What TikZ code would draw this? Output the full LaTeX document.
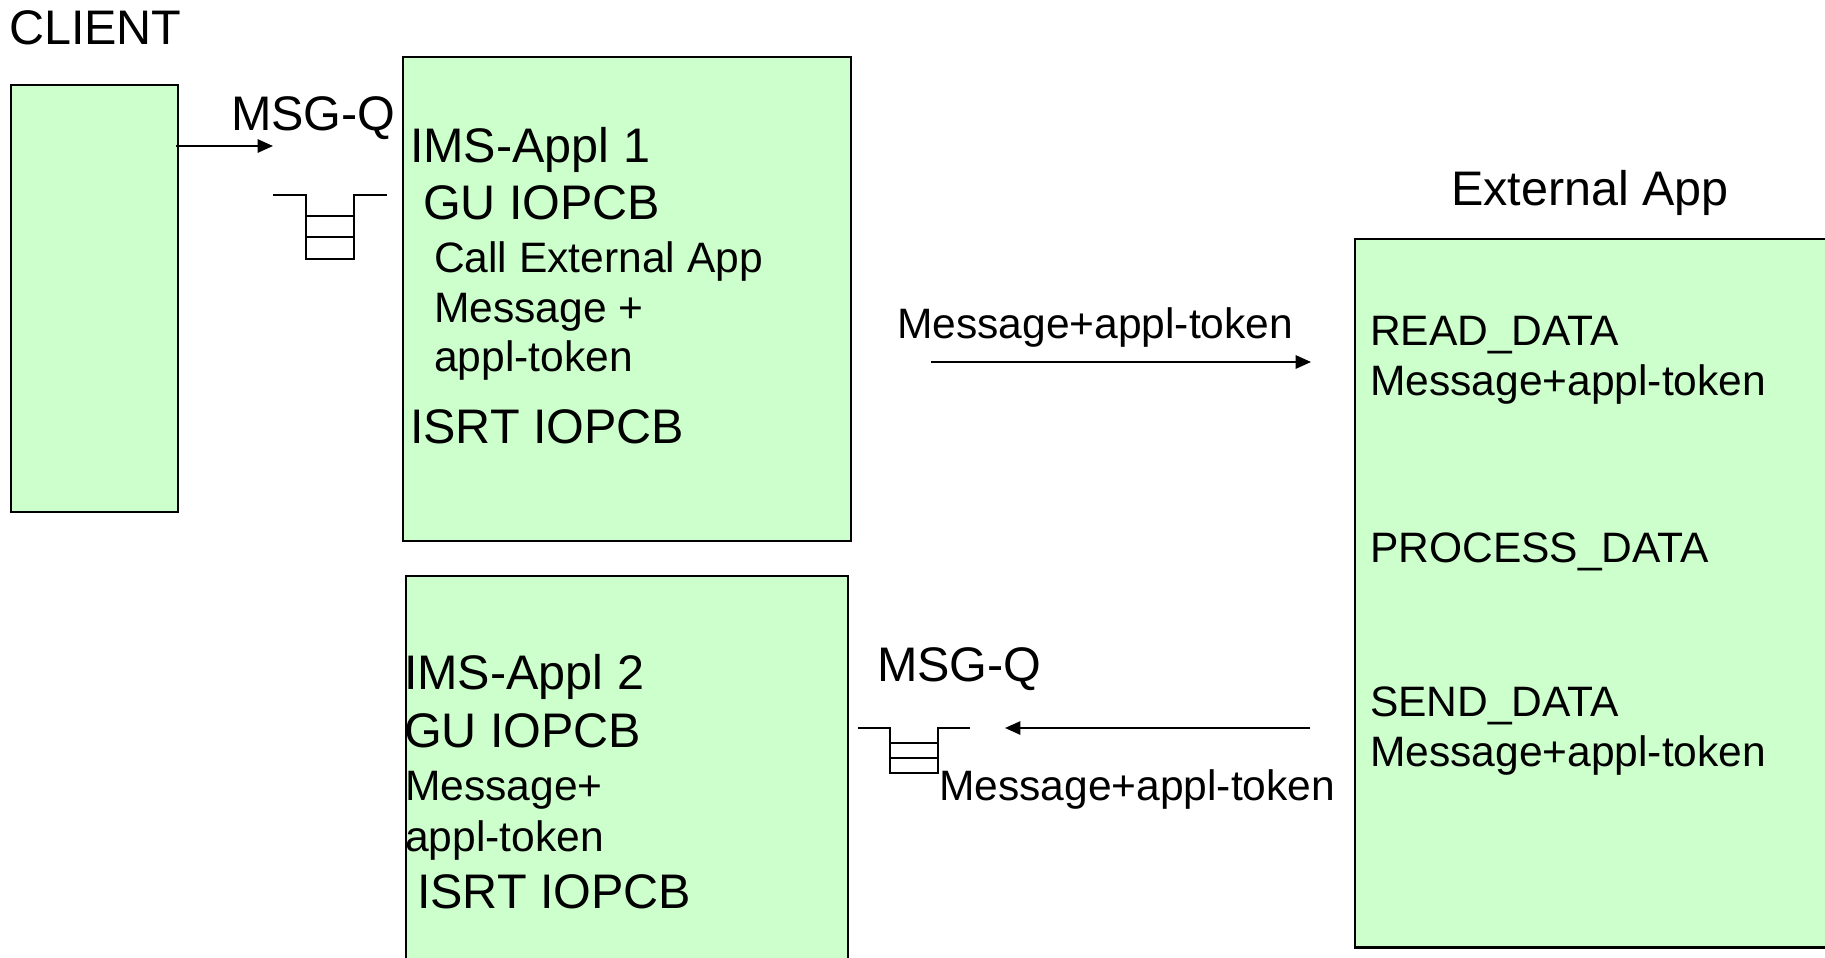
\documentclass[tikz,border=0pt]{standalone}
\usepackage{fontspec}
\setmainfont{Liberation Sans}
\usetikzlibrary{arrows.meta}
\definecolor{boxgreen}{HTML}{CCFFCC}

\begin{document}
\begin{tikzpicture}[x=0.01cm, y=-0.01cm, >={Triangle[length=4.4pt, width=3.8pt]}, line width=0.6pt]
    \tikzset{box/.style={draw, fill=boxgreen, anchor=north west, inner sep=0pt}};
    \tikzset{big/.style={anchor=base west, inner sep=0pt, font=\fontsize{13.8}{16}\selectfont}};
    \tikzset{small/.style={anchor=base west, inner sep=0pt, font=\fontsize{12.1}{14}\selectfont}};
    \tikzset{queue/.style={line width=0.5pt}};
    \useasboundingbox (0, 0) rectangle (1825, 958);
    \clip (0, 0) rectangle (1825, 958);
    % Client
    \node[big] (clientlbl) at (8, 45) {CLIENT};
    \node[box, minimum width=1.67cm, minimum height=4.27cm] (client) at (10, 84) {};
    \node[big] (msgq1) at (230, 131) {MSG-Q};
    \coordinate (qin) at (273, 146);
    \draw[->] (client.east |- qin) ++(-3, 0) -- (qin);
    \draw[queue] (273, 195) -- (306, 195) -- (306, 259) -- (354, 259) -- (354, 195) -- (387, 195);
    \foreach \y in {216, 237}{
        \draw[queue] (306, \y) -- (354, \y);
    }
    % IMS-Appl 1
    \node[box, minimum width=4.48cm, minimum height=4.84cm] (ims1) at (402, 56) {};
    \node[big] (ims1name) at (409, 163) {IMS-Appl 1};
    \node[big] (ims1gu) at (422, 220) {GU IOPCB};
    \node[small] (ims1call) at (433, 273) {Call External App};
    \node[small] (ims1msg) at (433, 323) {Message +};
    \node[small] (ims1tok) at (433, 372) {appl-token};
    \node[big] (ims1isrt) at (409, 443) {ISRT IOPCB};
    % Request
    \node[small] (reqlbl) at (896, 339) {Message+appl-token};
    \coordinate (reqfrom) at (931, 362);
    \coordinate (reqto) at (1311, 362);
    \draw[->] (reqfrom) -- (reqto);
    % External App
    \node[big] (extlbl) at (1450, 206) {External App};
    \node[box, minimum width=4.9cm, minimum height=7.08cm] (ext) at (1354, 238) {};
    \node[small] (extread) at (1369, 346) {READ\_DATA};
    \node[small] (extreadmsg) at (1369, 396) {Message+appl-token};
    \node[small] (extproc) at (1369, 562) {PROCESS\_DATA};
    \node[small] (extsend) at (1369, 716) {SEND\_DATA};
    \node[small] (extsendmsg) at (1369, 766) {Message+appl-token};
    % Reply
    \node[big] (msgq2) at (876, 681) {MSG-Q};
    \coordinate (repfrom) at (1310, 728);
    \coordinate (repto) at (1005, 728);
    \draw[->] (repfrom) -- (repto);
    \draw[queue] (858, 728) -- (890, 728) -- (890, 773) -- (938, 773) -- (938, 728) -- (970, 728);
    \foreach \y in {743, 758}{
        \draw[queue] (890, \y) -- (938, \y);
    }
    \node[small] (replbl) at (938, 800) {Message+appl-token};
    % IMS-Appl 2
    \node[box, minimum width=4.42cm, minimum height=4.0cm] (ims2) at (405, 575) {};
    \node[big] (ims2name) at (403, 689) {IMS-Appl 2};
    \node[big] (ims2gu) at (403, 747) {GU IOPCB};
    \node[small] (ims2msg) at (404, 800) {Message+};
    \node[small] (ims2tok) at (404, 851) {appl-token};
    \node[big] (ims2isrt) at (416, 908) {ISRT IOPCB};
\end{tikzpicture}
\end{document}
